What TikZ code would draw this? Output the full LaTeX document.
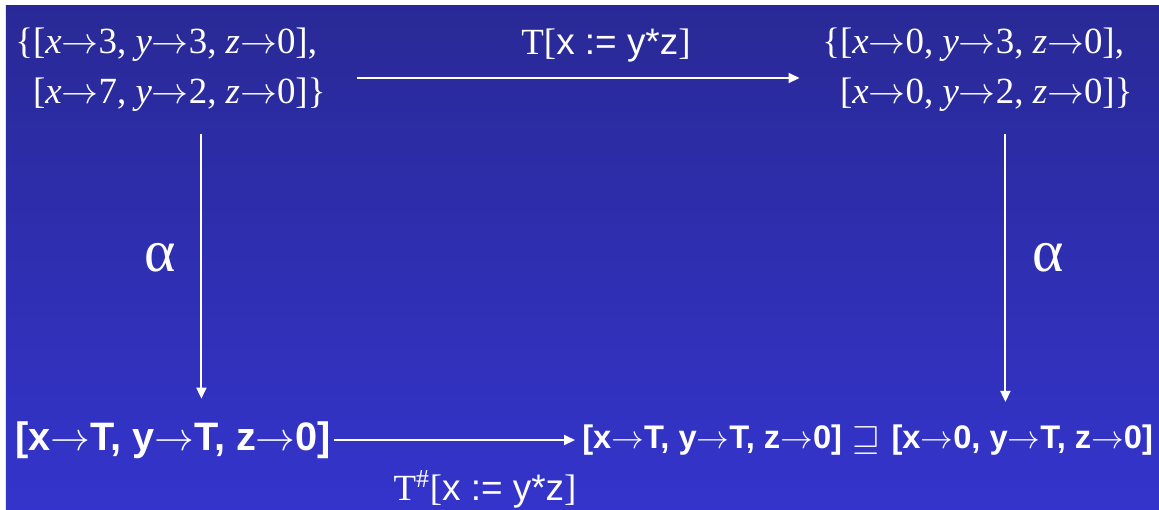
\documentclass[tikz,border=0pt]{standalone}
\usepackage{amssymb}
\usepackage{fontspec}
\setmainfont{Liberation Serif}
\newfontfamily\sansfont{Liberation Sans}
\usetikzlibrary{arrows.meta,positioning}
\definecolor{bgtop}{RGB}{41,41,150}
\definecolor{bgbottom}{RGB}{52,52,204}
\newcommand{\mto}{\resizebox{1em}{!}{$\rightarrow$}}

\begin{document}
\begin{tikzpicture}[>={Triangle[length=2.2mm,width=2mm]},
  state/.style={text=white,inner sep=0pt,align=left,font=\fontsize{21}{28.5}\selectfont},
  abst/.style={text=white,inner sep=0pt,font=\sansfont\bfseries\fontsize{18.6}{22}\selectfont},
  lbl/.style={text=white,inner sep=0pt,font=\fontsize{21}{24}\selectfont},
  arr/.style={->,white,line width=1.1pt}]
  %% background
  \useasboundingbox (0,0) rectangle (23.18,-10.18);
  \fill[white] (0,0) rectangle (23.18,-10.18);
  \shade[top color=bgtop,bottom color=bgbottom] (0.12,-0.10) rectangle (23.18,-10.18);
  %% concrete states
  \node[state,anchor=west] (tl) at (0.30,-1.40)
    {\{[\textit{x}\mto3, \textit{y}\mto3, \textit{z}\mto0],\\
     \phantom{\{}[\textit{x}\mto7, \textit{y}\mto2, \textit{z}\mto0]\}};
  \node[state,anchor=west] (tr) at (16.44,-1.40)
    {\{[\textit{x}\mto0, \textit{y}\mto3, \textit{z}\mto0],\\
     \phantom{\{}[\textit{x}\mto0, \textit{y}\mto2, \textit{z}\mto0]\}};
  %% abstract states
  \node[abst,anchor=west,font=\sansfont\bfseries\fontsize{22.6}{26}\selectfont] (bl) at (0.30,-8.80)
    {[x\mto T, y\mto T, z\mto 0]};
  \node[abst,anchor=west] (bm) at (11.64,-8.80) {[x\mto T, y\mto T, z\mto 0]};
  \node[abst,font=\normalsize,right=0.2cm of bm] (sq) {\scalebox{2.05}{$\sqsupseteq$}};
  \node[abst,right=0.2cm of sq] (br) {[x\mto 0, y\mto T, z\mto 0]};
  %% arrows
  \draw[arr] ([xshift=0.62cm,yshift=-0.16cm]tl.east) -- ([xshift=-0.45cm,yshift=-0.16cm]tr.west);
  \draw[arr] ([xshift=0.62cm,yshift=-0.44cm]tl.south) coordinate (la)
    -- ([yshift=0.45cm]la |- bl.north);
  \draw[arr] ([xshift=0.56cm,yshift=-0.44cm]tr.south) coordinate (ra)
    -- ([yshift=0.45cm]ra |- br.north);
  \draw[arr] ([xshift=0.06cm]bl.east) -- ([xshift=-0.14cm]bm.west);
  %% labels
  \node[lbl] (top) at (12.12,-0.92) {T[{\sansfont x := y*z}]};
  \node[lbl] (bot) at (9.70,-9.78) {T\textsuperscript{\#}[{\sansfont x := y*z}]};
  \node[text=white,font=\fontsize{34}{34}\selectfont] (al) at (3.20,-5.16) {α};
  \node[text=white,font=\fontsize{34}{34}\selectfont] (ar) at (20.96,-5.16) {α};
\end{tikzpicture}
\end{document}
